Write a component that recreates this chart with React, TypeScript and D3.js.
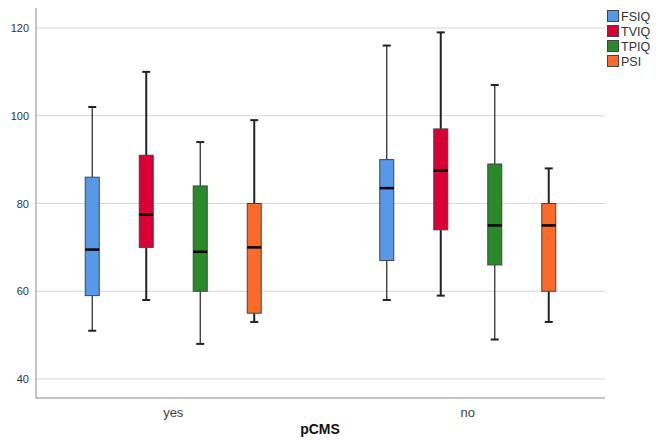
import React, { useEffect, useRef } from 'react';
import * as d3 from 'd3';

// groups on the x axis and the four measures inside each group
const groups = ['yes', 'no'];
const measures = ['FSIQ', 'TVIQ', 'TPIQ', 'PSI'];
const colors = ['#5799e8', '#d90036', '#2a8a2a', '#fa6a2a'];

// [min, q1, median, q3, max] per measure, for the "yes" and "no" groups
const yesStats = [
  [51, 59, 69.5, 86, 102],
  [58, 70, 77.5, 91, 110],
  [48, 60, 69, 84, 94],
  [53, 55, 70, 80, 99],
];
const noStats = [
  [58, 67, 83.5, 90, 116],
  [59, 74, 87.5, 97, 119],
  [49, 66, 75, 89, 107],
  [53, 60, 75, 80, 88],
];
const yTicks = [40, 60, 80, 100, 120];

export default function App() {
  const ref = useRef<SVGSVGElement>(null);

  useEffect(() => {
    const svg = d3.select(ref.current);
    svg.selectAll('*').remove();

    const left = 36, right = 605, top = 8, bottom = 398;

    const y = d3.scaleLinear().domain([40, 120]).range([379, 28]);
    const x = d3.scalePoint().domain(groups).range([left, right]).padding(0.466);
    const sub = d3.scalePoint().domain(measures).range([-81, 81]);
    const boxW = 14;

    // gridlines
    svg.append('g')
      .selectAll('line')
      .data(yTicks)
      .enter()
      .append('line')
      .attr('x1', left)
      .attr('x2', right)
      .attr('y1', d => y(d))
      .attr('y2', d => y(d))
      .attr('stroke', '#d6d6d6')
      .attr('stroke-width', 1);

    // axes
    svg.append('line')
      .attr('x1', left).attr('x2', left)
      .attr('y1', top).attr('y2', bottom)
      .attr('stroke', '#888');
    svg.append('line')
      .attr('x1', left).attr('x2', right)
      .attr('y1', bottom).attr('y2', bottom)
      .attr('stroke', '#888');

    svg.append('g')
      .selectAll('text')
      .data(yTicks)
      .enter()
      .append('text')
      .attr('x', left - 7)
      .attr('y', d => y(d) + 4)
      .attr('text-anchor', 'end')
      .attr('font-size', 11)
      .attr('fill', '#333')
      .text(d => d);

    svg.append('g')
      .selectAll('text')
      .data(groups)
      .enter()
      .append('text')
      .attr('x', d => x(d)!)
      .attr('y', 417)
      .attr('text-anchor', 'middle')
      .attr('font-size', 13)
      .attr('fill', '#444')
      .text(d => d);

    svg.append('text')
      .attr('x', 320)
      .attr('y', 434)
      .attr('text-anchor', 'middle')
      .attr('font-size', 14)
      .attr('font-weight', 'bold')
      .attr('fill', '#111')
      .text('pCMS');

    const allStats = [yesStats, noStats];

    groups.forEach((g, gi) => {
      allStats[gi].forEach((s, mi) => {
        const cx = x(g)! + sub(measures[mi])!;
        const [mn, q1, med, q3, mx] = s;
        const thick = mi % 2 === 1;
        const wg = svg.append('g');
        const sw = thick ? 2 : 1.2;
        wg.append('line')
          .attr('x1', cx).attr('x2', cx)
          .attr('y1', y(mx)).attr('y2', y(q3))
          .attr('stroke', '#222').attr('stroke-width', sw);
        wg.append('line')
          .attr('x1', cx).attr('x2', cx)
          .attr('y1', y(q1)).attr('y2', y(mn))
          .attr('stroke', '#222').attr('stroke-width', sw);
        [mn, mx].forEach(v => {
          wg.append('line')
            .attr('x1', cx - 4).attr('x2', cx + 4)
            .attr('y1', y(v)).attr('y2', y(v))
            .attr('stroke', '#222').attr('stroke-width', 2);
        });
        wg.append('rect')
          .attr('x', cx - boxW / 2)
          .attr('y', y(q3))
          .attr('width', boxW)
          .attr('height', y(q1) - y(q3))
          .attr('fill', colors[mi])
          .attr('stroke', '#444')
          .attr('stroke-width', 1);
        wg.append('line')
          .attr('x1', cx - boxW / 2).attr('x2', cx + boxW / 2)
          .attr('y1', y(med)).attr('y2', y(med))
          .attr('stroke', '#000').attr('stroke-width', 2.5);
      });
    });

    // legend
    const lg = svg.append('g').attr('transform', 'translate(607,10)');
    measures.forEach((m, i) => {
      lg.append('rect')
        .attr('x', 0.5).attr('y', i * 15 + 0.5)
        .attr('width', 11).attr('height', 11)
        .attr('fill', colors[i])
        .attr('stroke', '#444');
      lg.append('text')
        .attr('x', 14)
        .attr('y', i * 15 + 11)
        .attr('font-size', 12.5)
        .attr('fill', '#333')
        .text(m);
    });
  }, []);

  return (
    <svg ref={ref} width={660} height={446}
      style={{ position: 'absolute', left: 0, top: 0, fontFamily: 'Arial, "Liberation Sans", sans-serif', background: '#fff' }} />
  );
}
